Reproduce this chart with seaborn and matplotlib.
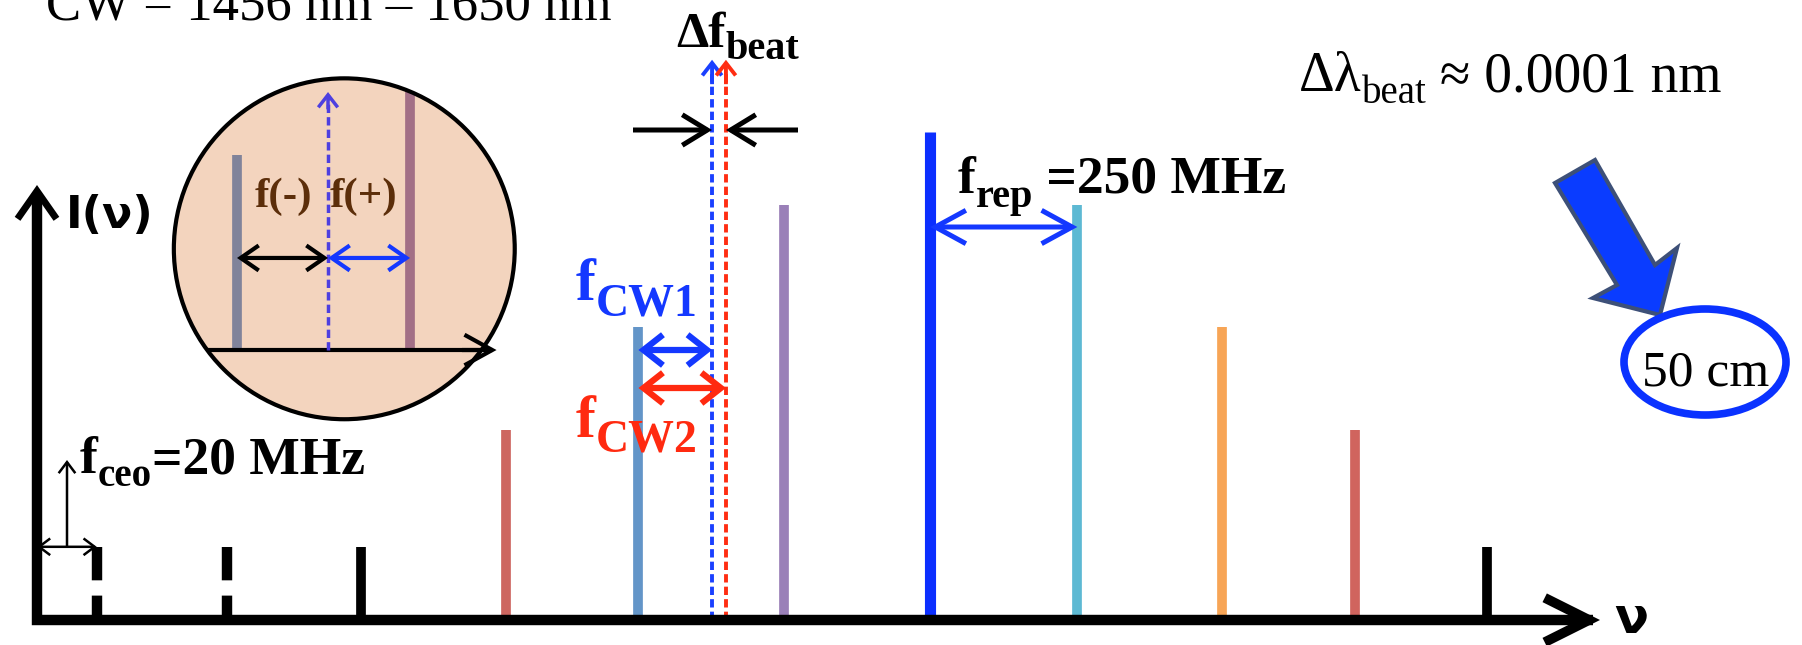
import matplotlib
matplotlib.use("Agg")
import matplotlib.pyplot as plt
import seaborn as sns
from matplotlib.patches import Circle, Ellipse, Polygon
from matplotlib.transforms import Affine2D

# ---------------- data ----------------
# comb modes: frequency (units of the mode spacing) and relative intensity
comb_x = [0.43, 1.37, 2.33, 3.38, 4.33, 5.38, 6.43, 7.49, 8.53, 9.49, 10.44]
comb_h = [0.15, 0.15, 0.15, 0.39, 0.60, 0.85, 1.00, 0.85, 0.60, 0.39, 0.15]
comb_colors = ["#000000", "#000000", "#000000", "#cd6660", "#6395c8", "#9a80b8",
               "#0b2eff", "#5db9d3", "#f7a556", "#d0645e", "#000000"]
# two CW lasers sitting between comb modes 4 and 5
cw_x = [4.86, 4.96]
cw_colors = ["#1a40ff", "#ff2d12"]
cw_tip = 1.148
# close-up (inset): two neighbouring modes and the CW line in between
zoom_x = [0.0, 1.0]
zoom_h = [1.127, 2.0]
zoom_colors = ["#80839a", "#a26f86"]
zoom_cw = 0.526
zoom_cw_tip = 1.491

W, H = 1802, 645
sns.set_theme(style="white")
plt.rcParams["font.family"] = ["Liberation Serif", "DejaVu Serif"]
plt.rcParams["text.color"] = "black"
plt.rcParams["lines.scale_dashes"] = False

fig = plt.figure(figsize=(W / 100, H / 100), dpi=100)
ax = fig.add_axes([0, 0, 1, 1])
ax.set_xlim(-37 / 138.9, (W - 37) / 138.9)
ax.set_ylim(-(H - 620) / 488, 620 / 488)
ax.axis("off")
renderer = fig.canvas.get_renderer()

# figure-pixel transform for annotations (origin top-left)
pix = Affine2D().scale(1 / W, -1 / H).translate(0, 1) + fig.transFigure


def arrow(a, xy_from, xy_to, color="black", lw=3.0, hl=14, hw=10, style="->",
          transform=None, z=5):
    a.annotate("", xy=xy_to, xytext=xy_from,
               xycoords=transform if transform is not None else "data",
               textcoords=transform if transform is not None else "data",
               arrowprops=dict(arrowstyle=f"{style},head_length={hl},head_width={hw}",
                               mutation_scale=1, lw=lw, color=color,
                               shrinkA=0, shrinkB=0, capstyle="butt",
                               joinstyle="miter"),
               zorder=z)


def chain(x, y, parts, color="black", family=None, weight="bold"):
    fam = family or ["Liberation Serif", "DejaVu Serif"]
    for s, size, dy in parts:
        t = fig.text(x / W, 1 - (y + dy) / H, s, fontsize=size, color=color,
                     family=fam, weight=weight, va="baseline", ha="left")
        x = t.get_window_extent(renderer).x1


# ---------------- axes of the spectrum ----------------
v_tip = (620 - 185) / 488
h_tip = (1600 - 37) / 138.9
ax.plot([0, 0, h_tip - 0.05], [v_tip - 0.02, 0, 0], color="black", lw=7.5,
        solid_joinstyle="miter", solid_capstyle="butt", zorder=4)
arrow(ax, (0, v_tip - 0.1), (0, v_tip), lw=5, hl=20, hw=14)
arrow(ax, (h_tip - 0.4, 0), (h_tip, 0), lw=7, hl=32, hw=16)
chain(66, 228, [("I(ν)", 32, 0)], family=["DejaVu Sans"])
chain(1614, 633, [("ν", 36, 0)], family=["DejaVu Sans"])

# ---------------- comb lines ----------------
for i, (x, h, c) in enumerate(zip(comb_x, comb_h, comb_colors)):
    lw = 8 if c == "#0b2eff" else 7
    if i < 2:
        ax.plot([x, x], [h, 0], color=c, lw=7.5, dashes=[24, 11, 40, 10],
                dash_capstyle="butt", zorder=3)
    else:
        ax.plot([x, x], [0, h], color=c, lw=lw, solid_capstyle="butt", zorder=3)

# CW lasers (dashed, with arrow heads)
for x, c in zip(cw_x, cw_colors):
    ax.plot([x, x], [0, cw_tip - 0.02], color=c, lw=2.8, dashes=[6, 3],
            dash_capstyle="butt", zorder=3)
    arrow(ax, (x, cw_tip - 0.05), (x, cw_tip), color=c, lw=2.8, hl=9, hw=7)

# f_ceo
arrow(ax, (0, comb_h[0]), (comb_x[0], comb_h[0]), lw=1.8, hl=8, hw=6, style="<->")
arrow(ax, (0.216, comb_h[0]), (0.216, (620 - 460) / 488), lw=1.8, hl=8, hw=6)
chain(80, 473, [("f", 38.5, 0), ("ceo", 28, 13), ("=20 MHz", 38.5, 0)])

# f_rep
y_rep = (620 - 227) / 488
arrow(ax, (comb_x[6], y_rep), (comb_x[7], y_rep), color="#1438ff", lw=3.6,
      hl=22, hw=12, style="<->")
chain(958, 193, [("f", 38.5, 0), ("rep", 29, 14), (" =250 MHz", 38.5, 0)])

# beat note between the CW lasers
y_b = (620 - 130) / 488
arrow(ax, ((633 - 37) / 138.9, y_b), (cw_x[0], y_b), lw=3.6, hl=18, hw=11)
arrow(ax, ((798 - 37) / 138.9, y_b), (cw_x[1], y_b), lw=3.6, hl=18, hw=11)
chain(676, 47, [("Δf", 37, 0), ("beat", 29, 12)])

# offsets of the CW lasers from the nearest comb mode
arrow(ax, (comb_x[4], (620 - 350) / 488), (cw_x[0], (620 - 350) / 488),
      color="#1438ff", lw=4.5, hl=14, hw=11, style="<->", z=6)
arrow(ax, (comb_x[4], (620 - 388) / 488), (cw_x[1], (620 - 388) / 488),
      color="#ff2a10", lw=4.5, hl=14, hw=11, style="<->", z=6)
chain(576, 300, [("f", 43, 0), ("CW1", 33, 16)], color="#1438ff")
chain(576, 437, [("f", 43, 0), ("CW2", 33, 15)], color="#ff2a10")

# ---------------- close-up of two modes ----------------
ins = fig.add_axes([160 / W, 1 - 440 / H, 380 / W, 380 / H])
ins.set_xlim(-0.445, 1.751)
ins.set_ylim(-0.520, 1.676)
ins.axis("off")
centre, radius = (0.620, 0.585), 0.985
disk = Circle(centre, radius, facecolor="#f3d4be", edgecolor="none", zorder=0)
ins.add_patch(disk)
for x, h, c in zip(zoom_x, zoom_h, zoom_colors):
    ln, = ins.plot([x, x], [0, h], color=c, lw=7, solid_capstyle="butt", zorder=2)
    ln.set_clip_path(disk)
ln, = ins.plot([-0.5, 1.45], [0, 0], color="black", lw=3, solid_capstyle="butt", zorder=3)
ln.set_clip_path(disk)
arrow(ins, (1.3, 0), (1.50, 0), lw=3, hl=20, hw=11)
ins.plot([zoom_cw, zoom_cw], [0, zoom_cw_tip - 0.02], color="#4d3fe0", lw=2.5,
         dashes=[6, 3], dash_capstyle="butt", zorder=3)
arrow(ins, (zoom_cw, zoom_cw_tip - 0.1), (zoom_cw, zoom_cw_tip), color="#4d3fe0",
      lw=2.5, hl=9, hw=7)
arrow(ins, (zoom_x[0], 0.532), (zoom_cw, 0.532), lw=3, hl=13, hw=9, style="<->")
arrow(ins, (zoom_cw, 0.532), (zoom_x[1], 0.532), color="#1438ff", lw=3, hl=13,
      hw=9, style="<->")
ins.add_patch(Circle(centre, radius, facecolor="none", edgecolor="black",
                     lw=3, zorder=6))
chain(255, 207, [("f(-)", 31, 0)], color="#5c2e0a")
chain(330, 207, [("f(+)", 31, 0)], color="#5c2e0a")

# ---------------- wavelength notes ----------------
chain(46, 20, [("CW = 1456 nm – 1650 nm", 38, 0)], weight="normal")
chain(1299, 91, [("Δλ", 40, 0), ("beat", 28, 12), (" ≈ 0.0001 nm", 40, 0)],
      weight="normal")

big_arrow = Polygon([(1555, 183), (1595, 160), (1655, 265), (1677, 248),
                     (1660, 315), (1593, 298), (1617, 285)], closed=True,
                    facecolor="#0a3cff", edgecolor="#3d5078", lw=3,
                    joinstyle="miter", transform=pix)
fig.add_artist(big_arrow)
fig.add_artist(Ellipse((1705, 362), 162, 106, facecolor="white",
                       edgecolor="#0a32ff", lw=5.5, transform=pix))
fig.text(1706 / W, 1 - 386 / H, "50 cm", fontsize=37, ha="center", va="baseline",
         color="black", family=["Liberation Serif"], zorder=10)

fig.savefig("out.png", dpi=100, facecolor="white")
